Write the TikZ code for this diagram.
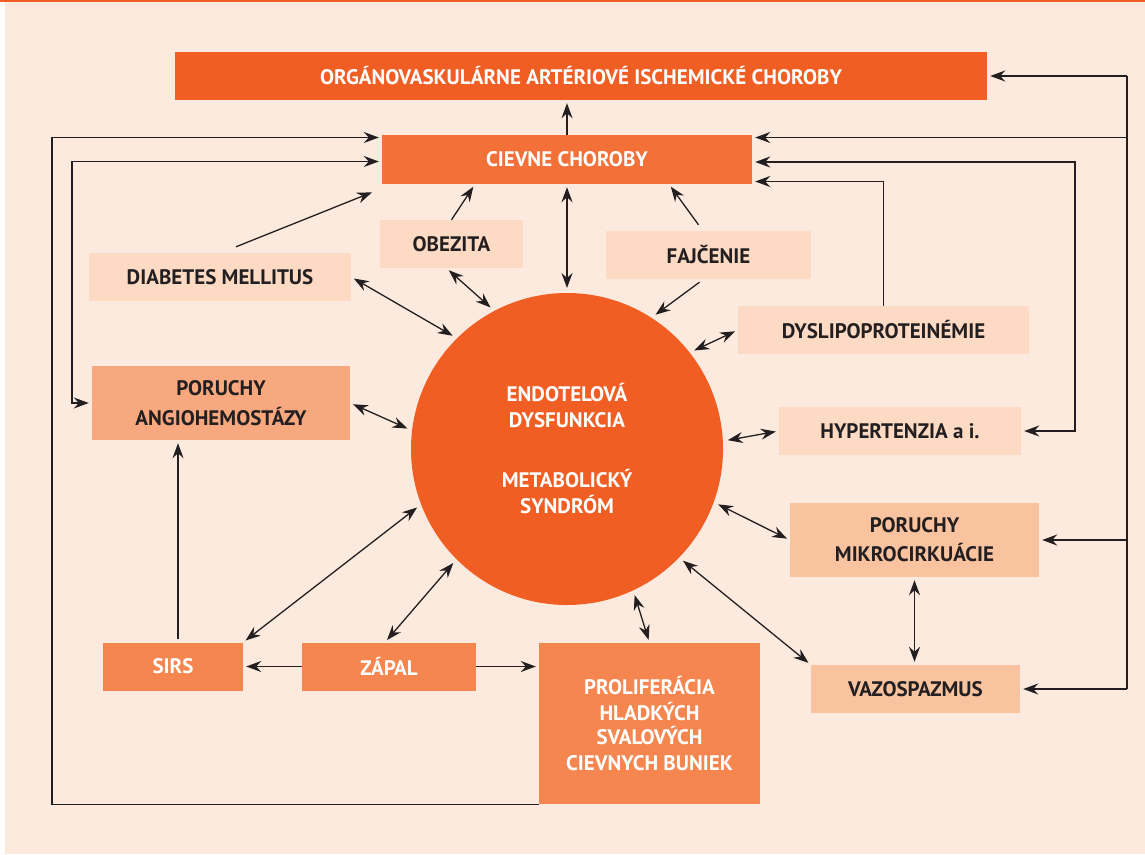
\documentclass[tikz,border=0pt]{standalone}
\usepackage{fontspec}
\setmainfont{PT Sans}
\usetikzlibrary{arrows.meta}
\definecolor{bgpeach}{HTML}{FDEADE}
\definecolor{deeporange}{HTML}{F15E24}
\definecolor{midorange}{HTML}{F37038}
\definecolor{softorange}{HTML}{F6864F}
\definecolor{paleorange}{HTML}{F8A87E}
\definecolor{lightorange}{HTML}{FAC3A0}
\definecolor{faintorange}{HTML}{FDDAC4}
\definecolor{inkgray}{HTML}{231F20}

\begin{document}
\begin{tikzpicture}[x=1pt,y=-1pt,
  box/.style={rectangle,inner sep=0pt,align=center,font=\bfseries\fontsize{21}{26}\selectfont},
  main node/.style={box,fill=deeporange,text=white},
  vessel node/.style={box,fill=midorange,text=white},
  cell node/.style={box,fill=softorange,text=white},
  angio node/.style={box,fill=paleorange,text=inkgray},
  micro node/.style={box,fill=lightorange,text=inkgray},
  risk node/.style={box,fill=faintorange,text=inkgray},
  wire/.style={draw=inkgray,line width=1.3pt},
  link/.style={wire,-{Stealth[length=15pt,width=11pt,inset=5pt]},shorten >=3pt},
  both/.style={wire,{Stealth[length=15pt,width=11pt,inset=5pt]}-{Stealth[length=15pt,width=11pt,inset=5pt]},shorten >=3pt,shorten <=3pt}]
  \useasboundingbox (0,0) rectangle (1145,854);
  \fill[white] (0,0) rectangle (1145,854);
  \fill[bgpeach] (5,2) rectangle (1145,854);
  \fill[deeporange] (0,0) rectangle (1145,2);

  \node[main node,minimum width=812pt,minimum height=48pt] (organ) at (581,76) {ORGÁNOVASKULÁRNE ARTÉRIOVÉ ISCHEMICKÉ CHOROBY};
  \node[vessel node,minimum width=370pt,minimum height=49pt] (cievne) at (567,159.5) {CIEVNE CHOROBY};
  \node[risk node,minimum width=143pt,minimum height=48pt] (obez) at (451.5,244) {OBEZITA};
  \node[risk node,minimum width=205pt,minimum height=48pt] (fajc) at (708.5,255) {FAJČENIE};
  \node[risk node,minimum width=262pt,minimum height=48pt] (diab) at (220,277) {DIABETES MELLITUS};
  \node[risk node,minimum width=291pt,minimum height=48pt] (dysl) at (883.5,330) {DYSLIPOPROTEINÉMIE};
  \node[risk node,minimum width=242pt,minimum height=48pt] (hyper) at (900,431) {HYPERTENZIA a i.};
  \node[angio node,minimum width=258pt,minimum height=74pt] (angio) at (221,403) {PORUCHY\\[4pt]ANGIOHEMOSTÁZY};
  \node[micro node,minimum width=249pt,minimum height=74pt] (mikro) at (914.5,540) {PORUCHY\\[3pt]MIKROCIRKUÁCIE};
  \node[micro node,minimum width=209pt,minimum height=48pt] (vazo) at (915.5,689) {VAZOSPAZMUS};
  \node[cell node,minimum width=140pt,minimum height=48pt] (sirs) at (173,666.5) {SIRS};
  \node[cell node,minimum width=174pt,minimum height=48pt] (zapal) at (389,666.5) {ZÁPAL};
  \node[cell node,minimum width=221pt,minimum height=161pt] (prolif) at (649.5,723.5) {PROLIFERÁCIA\\[-1pt]HLADKÝCH\\[-1pt]SVALOVÝCH\\[-1pt]CIEVNYCH BUNIEK};
  \node[main node,circle,minimum size=312pt,outer sep=2pt] (endo) at (567,449) {ENDOTELOVÁ\\DYSFUNKCIA\\[34pt]METABOLICKÝ\\SYNDRÓM};

  \coordinate (l1) at (52,0);
  \coordinate (l2) at (72,0);
  \coordinate (r1) at (1075,0);
  \coordinate (r2) at (1127,0);

  \path
    (cievne.north) edge[link] (cievne.north |- organ.south)
    ([xshift=16pt,yshift=6pt]diab.north) edge[link] ([xshift=-7pt,yshift=-7pt]cievne.south west)
    (obez.north) edge[link] ([xshift=-92pt]cievne.south)
    ([xshift=-10pt,yshift=6pt]fajc.north) edge[link] ([xshift=102pt]cievne.south)
    ([xshift=-9pt,yshift=-3pt]fajc.south) edge[link] (endo.57)
    (zapal.west) edge[link] (sirs.east)
    (zapal.east) edge[link] (prolif.west |- zapal.east)
    ([xshift=5pt,yshift=3pt]sirs.north) edge[link] ([xshift=5pt]sirs.north |- angio.south);

  \path
    (diab.east) edge[both] (endo.135)
    ([xshift=-5pt]obez.south) edge[both] (endo.118)
    (cievne.south) edge[both] (endo.north)
    (dysl.west) edge[both] (endo.38)
    (hyper.west) edge[both] (endo.3)
    (angio.east) edge[both] (endo.173)
    (sirs.north east) edge[both] (endo.201)
    ([xshift=-4pt]zapal.north) edge[both] (endo.225)
    (endo.295) edge[both] (prolif.north)
    (endo.316) edge[both] (vazo.north west)
    (endo.340) edge[both] (mikro.west)
    (mikro.south) edge[both] (mikro.south |- vazo.north);

  \draw[link] (prolif.south west) -- (prolif.south west -| l1) |- ([yshift=22pt]cievne.west);
  \draw[both] (angio.west) -- (angio.west -| l2) |- ([yshift=-2pt]cievne.west);
  \draw[link] (dysl.north) |- ([yshift=-22pt]cievne.east);
  \draw[both] (hyper.east) -- (hyper.east -| r1) |- ([yshift=-2.5pt]cievne.east);
  \draw[wire] (organ.east -| r2) -- (vazo.east -| r2);
  \path
    (organ.east -| r2) edge[link] (organ.east)
    ([yshift=22pt]cievne.east -| r2) edge[link] ([yshift=22pt]cievne.east)
    (mikro.east -| r2) edge[link] (mikro.east)
    (vazo.east -| r2) edge[link] (vazo.east);
\end{tikzpicture}
\end{document}
